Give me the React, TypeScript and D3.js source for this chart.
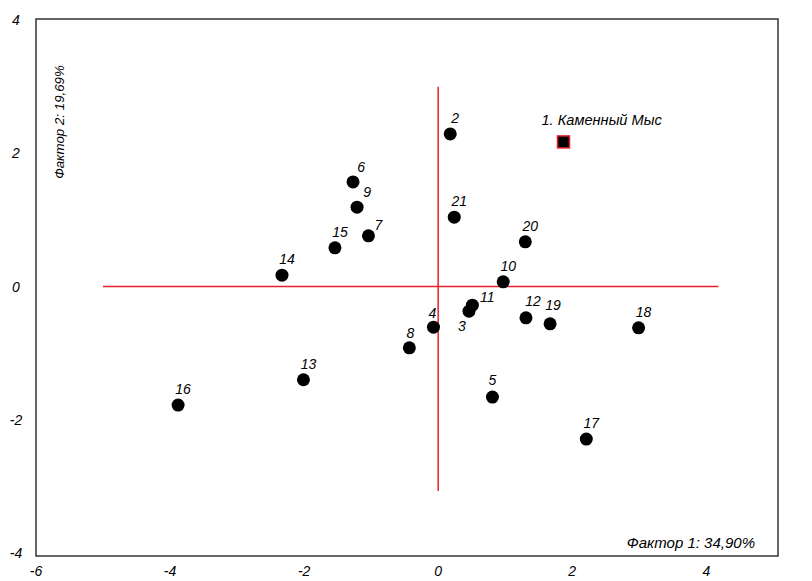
import React, { useEffect, useRef } from 'react'
import * as d3 from 'd3'

// factor scores
const pointIds = ['2', '3', '4', '5', '6', '7', '8', '9', '10', '11', '12', '13', '14', '15', '16', '17', '18', '19', '20', '21']
const factor1 = [0.18, 0.46, -0.07, 0.81, -1.27, -1.04, -0.43, -1.21, 0.97, 0.51, 1.31, -2.01, -2.33, -1.54, -3.88, 2.21, 2.99, 1.67, 1.30, 0.24]
const factor2 = [2.29, -0.37, -0.61, -1.66, 1.57, 0.76, -0.92, 1.19, 0.07, -0.28, -0.47, -1.40, 0.17, 0.58, -1.78, -2.29, -0.62, -0.56, 0.67, 1.04]

const refName = '1. Каменный Мыс'
const refPoint = [1.87, 2.17]

const xTickValues = [-6, -4, -2, 0, 2, 4, 5.55]
const xTickLabels = ['-6', '-4', '-2', '0', '2', '4', '4']
const yTickValues = [4, 2, 0, -2, -4]
const yTickLabels = ['4', '2', '0', '-2', '-4']

const xTitle = 'Фактор 1: 34,90%'
const yTitle = 'Фактор 2: 19,69%'

// label placement relative to each dot (px)
const labelShift: Record<string, [number, number]> = {
  '3': [-7, 15], '7': [10, -11], '11': [15, -8], '12': [7, -17], '19': [3, -19],
  '4': [-1, -14], '8': [1, -15], '5': [0, -17], '9': [10, -15], '6': [8, -15]
}

export default function App() {
  const ref = useRef<SVGSVGElement>(null)

  useEffect(() => {
    const svg = d3.select(ref.current)
    svg.selectAll('*').remove()
    const font = '"Liberation Sans", Arial, sans-serif'

    const x = d3.scaleLinear().domain([-6, 5.07]).range([36, 778])
    const y = d3.scaleLinear().domain([-4, 4]).range([553, 20])

    // frame
    svg.append('rect')
      .attr('x', x(-6)).attr('y', 19)
      .attr('width', x(5.07) - x(-6)).attr('height', 556 - 19)
      .attr('fill', 'none').attr('stroke', '#333').attr('stroke-width', 1.5)

    // ticks labels
    svg.append('g').selectAll('text')
      .data(xTickValues)
      .enter().append('text')
      .attr('x', d => x(d))
      .attr('y', 576)
      .attr('text-anchor', 'middle')
      .style('font-family', font).style('font-style', 'italic').style('font-size', '14px')
      .text((d, i) => xTickLabels[i])

    svg.append('g').selectAll('text')
      .data(yTickValues)
      .enter().append('text')
      .attr('x', 16)
      .attr('y', d => y(d) + 5)
      .attr('text-anchor', 'middle')
      .style('font-family', font).style('font-style', 'italic').style('font-size', '14px')
      .text((d, i) => yTickLabels[i])

    // red cross through origin
    svg.append('line')
      .attr('x1', x(-5)).attr('x2', x(4.18))
      .attr('y1', y(0)).attr('y2', y(0))
      .attr('stroke', '#e8202a').attr('stroke-width', 1.5)
    svg.append('line')
      .attr('x1', x(0)).attr('x2', x(0))
      .attr('y1', y(3)).attr('y2', y(-3.07))
      .attr('stroke', '#e8202a').attr('stroke-width', 1.5)

    // axis titles
    svg.append('text')
      .attr('transform', 'translate(64,122) rotate(-90)')
      .attr('text-anchor', 'middle')
      .style('font-family', font).style('font-style', 'italic').style('font-size', '13.3px')
      .text(yTitle)
    svg.append('text')
      .attr('x', 755).attr('y', 548)
      .attr('text-anchor', 'end')
      .style('font-family', font).style('font-style', 'italic').style('font-size', '15px')
      .text(xTitle)

    const pts = pointIds.map((id, i) => ({ id, x: factor1[i], y: factor2[i] }))

    svg.append('g').selectAll('circle')
      .data(pts)
      .enter().append('circle')
      .attr('cx', d => x(d.x))
      .attr('cy', d => y(d.y))
      .attr('r', 6.5)
      .attr('fill', '#000')

    svg.append('g').selectAll('text')
      .data(pts)
      .enter().append('text')
      .attr('x', d => x(d.x) + (labelShift[d.id] ? labelShift[d.id][0] : 5))
      .attr('y', d => y(d.y) + (labelShift[d.id] ? labelShift[d.id][1] : -16) + 5)
      .attr('text-anchor', 'middle')
      .style('font-family', font).style('font-style', 'italic').style('font-size', '14px')
      .text(d => d.id)

    // reference site
    svg.append('rect')
      .attr('x', x(refPoint[0]) - 6).attr('y', y(refPoint[1]) - 6)
      .attr('width', 12).attr('height', 12)
      .attr('fill', '#000').attr('stroke', '#e8202a').attr('stroke-width', 1.5)
    svg.append('text')
      .attr('x', x(refPoint[0]) - 22)
      .attr('y', y(refPoint[1]) - 17)
      .style('font-family', font).style('font-style', 'italic').style('font-size', '14.6px')
      .text(refName)
  }, [])

  return (
    <div style={{ margin: '-8px' }}>
      <svg ref={ref} width={812} height={581}></svg>
    </div>
  )
}
